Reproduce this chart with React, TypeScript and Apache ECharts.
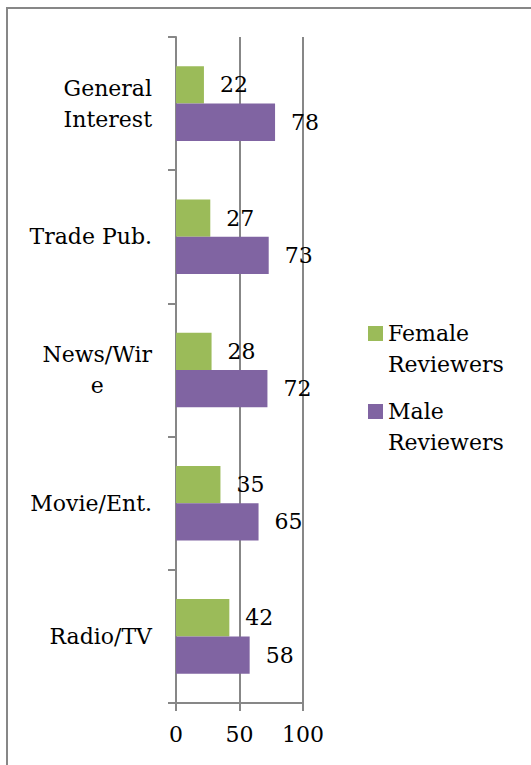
import React, { useEffect, useRef } from 'react';
import * as echarts from 'echarts';

const categories = ['Radio/TV', 'Movie/Ent.', 'News/Wir\ne', 'Trade Pub.', 'General\nInterest'];
const femaleValues = [42, 35, 28, 27, 22];
const maleValues = [58, 65, 72, 73, 78];
const seriesNames = ['Female Reviewers', 'Male Reviewers'];
const xMin = 0;
const xMax = 100;
const xInterval = 50;

const FONT = 'DejaVu Serif';
const AXIS_GRAY = '#878787';
const GREEN = '#9BBB59';
const PURPLE = '#8064A2';

export default function App() {
  const ref = useRef<HTMLDivElement>(null);
  useEffect(() => {
    if (!ref.current) return;
    const chart = echarts.init(ref.current, undefined, { renderer: 'svg' });
    const labelStyle = {
      show: true,
      position: 'right',
      distance: 16,
      fontFamily: FONT,
      fontSize: 22,
      color: '#000',
    };
    chart.setOption({
      animation: false,
      backgroundColor: '#fff',
      textStyle: { fontFamily: FONT },
      graphic: [
        {
          type: 'rect',
          x: 0,
          y: 0,
          shape: { x: 7, y: 8, width: 560, height: 800 },
          style: { fill: 'none', stroke: AXIS_GRAY, lineWidth: 2 },
          silent: true,
        },
      ],
      grid: {
        left: 176,
        top: 37,
        width: 127,
        height: 666,
        containLabel: false,
        outerBoundsMode: 'none',
      },
      legend: {
        orient: 'vertical',
        left: 368,
        top: 287,
        padding: 0,
        itemWidth: 15,
        itemHeight: 15,
        itemGap: -15,
        icon: 'rect',
        data: seriesNames,
        formatter: (name: string) => '\u00a0\n' + name.replace(' ', '\n'),
        textStyle: {
          fontFamily: FONT,
          fontSize: 22,
          color: '#000',
          lineHeight: 31,
        },
      },
      xAxis: {
        type: 'value',
        min: xMin,
        max: xMax,
        interval: xInterval,
        axisLine: { show: true, lineStyle: { color: AXIS_GRAY, width: 2 } },
        axisTick: { show: true, length: 8, lineStyle: { color: AXIS_GRAY, width: 2 } },
        splitLine: { show: true, lineStyle: { color: AXIS_GRAY, width: 2 } },
        axisLabel: { fontFamily: FONT, fontSize: 22, color: '#000', margin: 20 },
      },
      yAxis: {
        type: 'category',
        data: categories,
        axisLine: { show: true, lineStyle: { color: AXIS_GRAY, width: 2 } },
        axisTick: { show: true, length: 8, lineStyle: { color: AXIS_GRAY, width: 2 } },
        axisLabel: {
          margin: 24,
          fontFamily: FONT,
          fontSize: 22,
          color: '#000',
          lineHeight: 31,
          formatter: (v: string) => v.split('\n').map((s) => `{c|${s}}`).join('\n'),
          rich: {
            c: { align: 'center', fontFamily: FONT, fontSize: 22, color: '#000', lineHeight: 31 },
          },
        },
      },
      series: [
        {
          name: seriesNames[0],
          type: 'bar',
          data: femaleValues,
          itemStyle: { color: GREEN },
          label: labelStyle,
          barGap: '0%',
          barCategoryGap: '44%',
        },
        {
          name: seriesNames[1],
          type: 'bar',
          data: maleValues,
          itemStyle: { color: PURPLE },
          label: labelStyle,
          barGap: '0%',
          barCategoryGap: '44%',
        },
      ],
    });
    return () => chart.dispose();
  }, []);
  return (
    <div
      ref={ref}
      style={{ position: 'absolute', left: 0, top: 0, width: 531, height: 765 }}
    />
  );
}
